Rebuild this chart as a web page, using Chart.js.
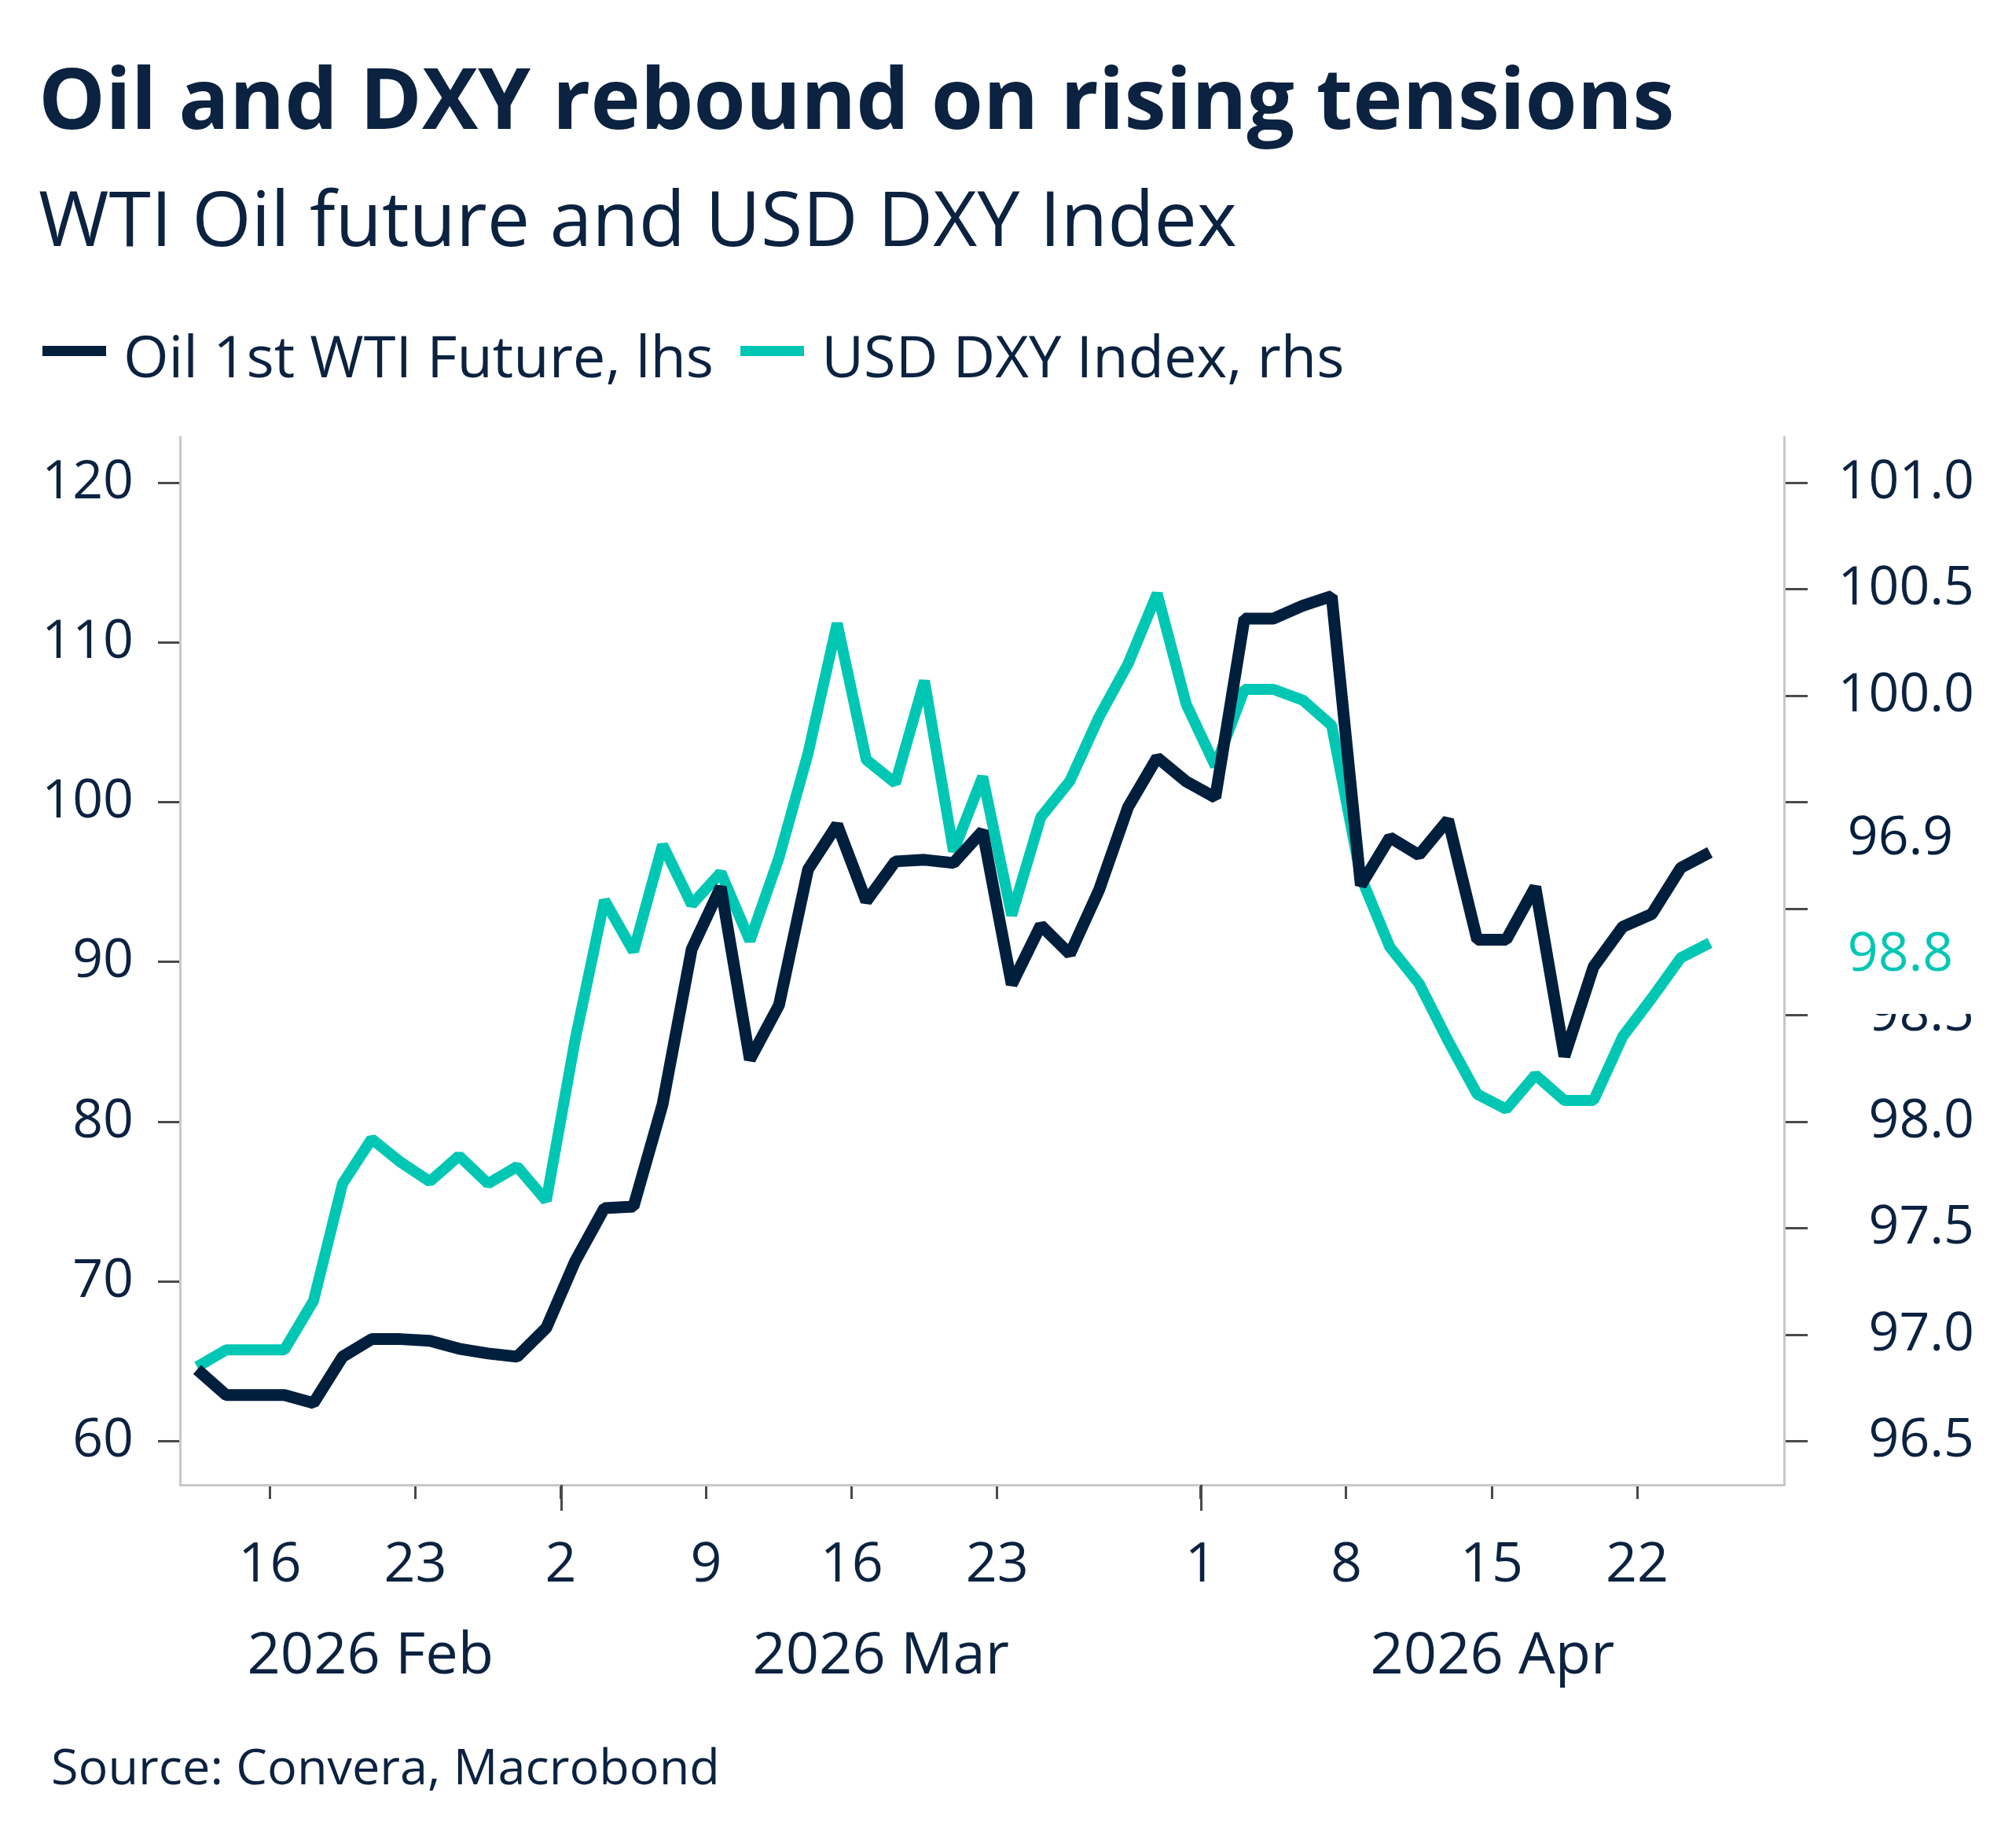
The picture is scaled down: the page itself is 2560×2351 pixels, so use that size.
<!DOCTYPE html>
<html>
<head>
<meta charset="utf-8">
<script src="https://cdn.jsdelivr.net/npm/chart.js@4.4.1/dist/chart.umd.min.js"></script>
<style>
  html, body { margin: 0; padding: 0; background: #fff; }
  body { width: 2560px; height: 2351px; position: relative; overflow: hidden; font-family: "Open Sans", sans-serif; color: #0b2240; }
  #title { position: absolute; left: 49px; top: 59px; font-size: 107px; font-weight: 700; line-height: 1.2; white-space: nowrap; }
  #subtitle { position: absolute; left: 49px; top: 217px; font-size: 97px; line-height: 1.2; white-space: nowrap; }
  #legend { position: absolute; left: 54px; top: 408px; height: 89px; display: flex; align-items: center; font-size: 74px; line-height: 1.2; white-space: nowrap; }
  #legend .item { display: flex; align-items: center; margin-right: 34px; }
  #legend .swatch { width: 81px; height: 13px; margin-right: 22px; position: relative; top: -6px; }
  #source { position: absolute; left: 65px; top: 2208px; font-size: 63px; line-height: 1.2; white-space: nowrap; }
  #chart { position: absolute; left: 0; top: 0; }
</style>
</head>
<body>
<div id="title">Oil and DXY rebound on rising tensions</div>
<div id="subtitle">WTI Oil future and USD DXY Index</div>
<div id="legend"></div>
<canvas id="chart" width="2560" height="2351"></canvas>
<div id="source">Source: Convera, Macrobond</div>

<script>
// business days, 11 Feb - 24 Apr 2026
const firstDay = "2026-02-11";
const lastDay = "2026-04-24";

// Oil 1st WTI future, USD/bbl (lhs)
const oil = [
    64.5, 62.9, 62.9, 62.9, 62.4, 65.3, 66.4, 66.4, 66.3, 65.8,
    65.5, 65.3, 67.1, 71.3, 74.6, 74.7, 81.1, 90.8, 94.7, 83.9,
    87.3, 95.8, 98.6, 93.8, 96.3, 96.4, 96.2, 98.2, 88.6, 92.3,
    90.5, 94.5, 99.7, 102.8, 101.3, 100.3, 111.5, 111.5, 112.3, 112.9,
    94.8, 97.8, 96.7, 98.9, 91.4, 91.4, 94.7, 84.1, 89.7, 92.2,
    93.0, 95.9, 96.87,
];

// USD DXY index (rhs)
const dxy = [
    96.85, 96.93, 96.93, 96.93, 97.16, 97.71, 97.92, 97.81, 97.72, 97.84,
    97.71, 97.79, 97.63, 98.39, 99.04, 98.80, 99.30, 99.02, 99.17, 98.85,
    99.24, 99.73, 100.34, 99.70, 99.59, 100.07, 99.27, 99.62, 98.97, 99.43,
    99.60, 99.90, 100.15, 100.48, 99.96, 99.67, 100.03, 100.03, 99.98, 99.86,
    99.15, 98.82, 98.65, 98.38, 98.13, 98.06, 98.22, 98.10, 98.10, 98.40,
    98.58, 98.77, 98.84,
];

const tickDates = ["2026-02-16", "2026-02-23", "2026-03-02", "2026-03-09", "2026-03-16",
    "2026-03-23", "2026-04-01", "2026-04-08", "2026-04-15", "2026-04-22"];
const tickLabels = ["16", "23", "2", "9", "16", "23", "1", "8", "15", "22"];
const monthStarts = ["2026-03-02", "2026-04-01"];
const monthLabels = ["2026 Feb", "2026 Mar", "2026 Apr"];

const NAVY = "#001f3d";
const TEAL = "#00c7b4";
const TEXT = "#0b2240";
const AXIS = "#c8c8c8";
const TICK = "#4a4a4a";
const FONT = "Open Sans";

// build the trading-day calendar
const dates = [];
for (let d = new Date(firstDay + "T00:00:00Z"); d <= new Date(lastDay + "T00:00:00Z"); d.setUTCDate(d.getUTCDate() + 1)) {
    const wd = d.getUTCDay();
    if (wd !== 0 && wd !== 6) dates.push(d.toISOString().slice(0, 10));
}
// ticks sit on the boundary before their day
const tickPos = tickDates.map((t) => dates.indexOf(t) - 0.5);
const monthPos = monthStarts.map((t) => dates.indexOf(t) - 0.5);

const X_MIN = -0.59;
const X_MAX = 54.55;

const monthPlugin = {
    id: "months",
    afterDraw(chart) {
        const { ctx, chartArea } = chart;
        const x = chart.scales.x;
        ctx.save();
        // longer ticks at month starts
        ctx.strokeStyle = TICK;
        ctx.lineWidth = 3;
        monthPos.forEach((v) => {
            const px = Math.round(x.getPixelForValue(v)) + 0.5;
            ctx.beginPath();
            ctx.moveTo(px, chartArea.bottom);
            ctx.lineTo(px, chartArea.bottom + 33);
            ctx.stroke();
        });
        // month names centred in their span
        const bounds = [X_MIN, ...monthPos, X_MAX];
        ctx.fillStyle = TEXT;
        ctx.font = `74px "${FONT}"`;
        ctx.textAlign = "center";
        ctx.textBaseline = "middle";
        monthLabels.forEach((m, i) => {
            const mid = (x.getPixelForValue(bounds[i]) + x.getPixelForValue(bounds[i + 1])) / 2;
            ctx.fillText(m, mid, 2108);
        });
        ctx.restore();
    },
};

// last value tags on the right axis
const lastValuePlugin = {
    id: "lastValues",
    afterDraw(chart) {
        const { ctx } = chart;
        const tags = chart.data.datasets.map((ds, i) => {
            const meta = chart.getDatasetMeta(i);
            const pt = meta.data[meta.data.length - 1];
            return { y: pt.y, text: ds.data[ds.data.length - 1].y.toFixed(1), color: ds.borderColor };
        });
        const minGap = 148;
        tags.sort((a, b) => a.y - b.y);
        for (let i = 1; i < tags.length; i++) {
            const gap = tags[i].y - tags[i - 1].y;
            if (gap < minGap) {
                const push = (minGap - gap) / 2;
                tags[i - 1].y -= push;
                tags[i].y += push;
            }
        }
        ctx.save();
        ctx.font = `68px "${FONT}"`;
        ctx.textAlign = "center";
        ctx.textBaseline = "middle";
        tags.forEach((t) => {
            ctx.fillStyle = "#fff";
            ctx.fillRect(2305, t.y - 86, 240, 160);
            ctx.fillStyle = t.color;
            ctx.fillText(t.text, 2418, t.y);
        });
        ctx.restore();
    },
};

const axisFont = { family: FONT, size: 68 };

const chart = new Chart(document.getElementById("chart").getContext("2d"), {
    type: "line",
    data: {
        datasets: [
            {
                label: "Oil 1st WTI Future, lhs",
                data: oil.map((v, i) => ({ x: i, y: v })),
                borderColor: NAVY,
                backgroundColor: NAVY,
                borderWidth: 15,
                borderJoinStyle: "bevel",
                pointRadius: 0,
                yAxisID: "yL",
            },
            {
                label: "USD DXY Index, rhs",
                data: dxy.map((v, i) => ({ x: i, y: v })),
                borderColor: TEAL,
                backgroundColor: TEAL,
                borderWidth: 14,
                borderJoinStyle: "bevel",
                pointRadius: 0,
                yAxisID: "yR",
            },
        ],
    },
    options: {
        responsive: false,
        animation: false,
        layout: { padding: { top: 556, right: 48, bottom: 0, left: 0 } },
        plugins: {
            legend: { display: false },
            tooltip: { enabled: false },
        },
        scales: {
            x: {
                type: "linear",
                min: X_MIN,
                max: X_MAX,
                afterFit: (s) => { s.height = 462; },
                afterBuildTicks: (s) => { s.ticks = tickPos.map((v) => ({ value: v })); },
                grid: { drawOnChartArea: false, tickLength: 18, tickColor: TICK, tickWidth: 3 },
                border: { color: AXIS, width: 3 },
                ticks: {
                    autoSkip: false,
                    maxRotation: 0,
                    padding: 43,
                    color: TEXT,
                    font: { family: FONT, size: 70 },
                    callback: (v, i) => tickLabels[i],
                },
            },
            yL: {
                position: "left",
                min: 57.28,
                max: 122.86,
                afterFit: (s) => { s.width = 229; },
                grid: { drawOnChartArea: false, tickLength: 28, tickColor: TICK, tickWidth: 3 },
                border: { color: AXIS, width: 3 },
                ticks: { stepSize: 10, includeBounds: false, padding: 31, color: TEXT, font: axisFont },
            },
            yR: {
                position: "right",
                min: 96.296,
                max: 101.2145,
                afterFit: (s) => { s.width = 242; },
                grid: { drawOnChartArea: false, tickLength: 30, tickColor: TICK, tickWidth: 3 },
                border: { color: AXIS, width: 3 },
                ticks: {
                    stepSize: 0.5,
                    includeBounds: false,
                    crossAlign: "far",
                    padding: 35,
                    color: TEXT,
                    font: axisFont,
                    callback: (v) => v.toFixed(1),
                },
            },
        },
    },
    plugins: [monthPlugin, lastValuePlugin],
});

// html legend from the chart's datasets
const legend = document.getElementById("legend");
chart.data.datasets.forEach((ds) => {
    const item = document.createElement("div");
    item.className = "item";
    const sw = document.createElement("span");
    sw.className = "swatch";
    sw.style.background = ds.borderColor;
    item.appendChild(sw);
    item.appendChild(document.createTextNode(ds.label));
    legend.appendChild(item);
});
</script>
</body>
</html>
